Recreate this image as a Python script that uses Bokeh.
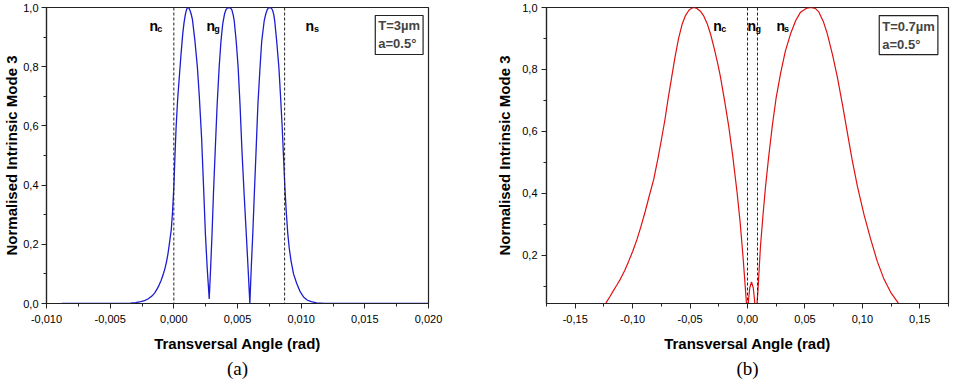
from bokeh.plotting import figure
from bokeh.layouts import row
from bokeh.models import FixedTicker, Span, Label, Range1d, Title
from bokeh.embed import file_html
from bokeh.resources import INLINE

# ---------------- data: panel (a) ----------------
angle_a = [
    -0.0088, -0.005, -0.004, -0.0034, -0.003, -0.0026, -0.0023, -0.002, -0.0017, -0.0015,
    -0.0013, -0.00115, -0.001, -0.00085, -0.0007, -0.00058, -0.00046, -0.00034, -0.0002, -0.0001,
    0.0, 0.00009, 0.00018, 0.0003, 0.00043, 0.00057, 0.0007, 0.0008, 0.0009, 0.00098,
    0.00105, 0.00112, 0.00119, 0.00127, 0.00136, 0.00146, 0.00165, 0.00185, 0.002, 0.00218,
    0.00233, 0.00248, 0.00262, 0.00278, 0.0029, 0.003, 0.00312, 0.00325, 0.0034, 0.00356,
    0.0037, 0.00384, 0.00398, 0.0041, 0.00421, 0.00433, 0.00445, 0.00456, 0.00466, 0.00474,
    0.0049, 0.00505, 0.0052, 0.00535, 0.00552, 0.00569, 0.00583, 0.00597, 0.00608, 0.0062,
    0.00633, 0.00646, 0.0066, 0.00677, 0.0069, 0.0071, 0.00722, 0.00733, 0.00743, 0.00754,
    0.00765, 0.00776, 0.00785, 0.00792, 0.00808, 0.00825, 0.00838, 0.00851, 0.00862, 0.00872,
    0.00883, 0.00895, 0.00907, 0.0092, 0.0094, 0.00966, 0.0099, 0.0102, 0.0105, 0.0108,
    0.0112, 0.0118, 0.0125, 0.02]
mode_a = [
    0.0, 0.0, 0.0005, 0.0015, 0.003, 0.006, 0.01, 0.016, 0.026, 0.036,
    0.05, 0.063, 0.078, 0.096, 0.118, 0.14, 0.168, 0.205, 0.25, 0.31,
    0.393, 0.50, 0.596, 0.69, 0.765, 0.845, 0.911, 0.948, 0.975, 0.99,
    0.998, 1.0, 0.998, 0.99, 0.978, 0.96, 0.89, 0.798, 0.70, 0.56,
    0.40, 0.235, 0.12, 0.015, 0.13, 0.235, 0.38, 0.517, 0.67, 0.798,
    0.885, 0.945, 0.978, 0.993, 0.999, 1.0, 0.999, 0.992, 0.975, 0.956,
    0.885, 0.798, 0.67, 0.517, 0.37, 0.235, 0.12, 0.0, 0.12, 0.235,
    0.38, 0.517, 0.67, 0.798, 0.885, 0.956, 0.978, 0.992, 0.999, 1.0,
    0.999, 0.99, 0.975, 0.956, 0.885, 0.798, 0.70, 0.596, 0.49, 0.393,
    0.31, 0.235, 0.185, 0.145, 0.10, 0.067, 0.042, 0.021, 0.011, 0.006,
    0.002, 0.0005, 0.0, 0.0]
interfaces_a = [0.0, 0.0087]
xticks_a = [-0.010, -0.005, 0.000, 0.005, 0.010, 0.015, 0.020]
xlabels_a = ["-0,010", "-0,005", "0,000", "0,005", "0,010", "0,015", "0,020"]
xminor_a = [-0.0075, -0.0025, 0.0025, 0.0075, 0.0125, 0.0175]
yticks_a = [0.0, 0.2, 0.4, 0.6, 0.8, 1.0]
ylabels_a = ["0,0", "0,2", "0,4", "0,6", "0,8", "1,0"]
yminor_a = [0.1, 0.3, 0.5, 0.7, 0.9]
legend_a = "T=3µm\na=0.5°"

# ---------------- data: panel (b) ----------------
angle_b = [
    -0.128, -0.125, -0.123, -0.120, -0.117, -0.114, -0.1108, -0.107, -0.1035, -0.100,
    -0.0962, -0.093, -0.089, -0.0855, -0.0817, -0.078, -0.075, -0.072, -0.069, -0.066,
    -0.063, -0.060, -0.057, -0.054, -0.051, -0.0485, -0.0468, -0.044, -0.041, -0.038,
    -0.035, -0.032, -0.029, -0.026, -0.0235, -0.020, -0.0163, -0.013, -0.009, -0.0065,
    -0.004, -0.002, 0.0, 0.001, 0.002, 0.0035, 0.005, 0.006, 0.0073, 0.009,
    0.0113, 0.0135, 0.0157, 0.0185, 0.0215, 0.025, 0.0288, 0.033, 0.0375, 0.042,
    0.0462, 0.051, 0.055, 0.059, 0.0622, 0.066, 0.0695, 0.074, 0.0782, 0.083,
    0.087, 0.091, 0.0957, 0.1015, 0.1073, 0.113, 0.1189, 0.125, 0.131, 0.135]
mode_b = [
    0.022, 0.037, 0.047, 0.065, 0.084, 0.102, 0.122, 0.150, 0.180, 0.212,
    0.251, 0.290, 0.342, 0.392, 0.444, 0.512, 0.572, 0.635, 0.708, 0.775,
    0.842, 0.900, 0.945, 0.974, 0.991, 0.998, 1.0, 0.997, 0.988, 0.972,
    0.947, 0.912, 0.868, 0.82, 0.775, 0.70, 0.615, 0.525, 0.40, 0.31,
    0.20, 0.10, 0.0, 0.06, 0.095, 0.114, 0.095, 0.06, 0.0, 0.08,
    0.229, 0.33, 0.422, 0.52, 0.615, 0.71, 0.787, 0.86, 0.915, 0.958,
    0.985, 0.997, 1.0, 0.997, 0.985, 0.955, 0.915, 0.848, 0.776, 0.68,
    0.594, 0.51, 0.422, 0.33, 0.251, 0.18, 0.122, 0.078, 0.047, 0.03]
interfaces_b = [0.0, 0.0087]
xticks_b = [-0.15, -0.10, -0.05, 0.00, 0.05, 0.10, 0.15]
xlabels_b = ["-0,15", "-0,10", "-0,05", "0,00", "0,05", "0,10", "0,15"]
xminor_b = [-0.175, -0.125, -0.075, -0.025, 0.025, 0.075, 0.125, 0.175]
yticks_b = [0.2, 0.4, 0.6, 0.8, 1.0]
ylabels_b = ["0,2", "0,4", "0,6", "0,8", "1,0"]
yminor_b = [0.1, 0.3, 0.5, 0.7, 0.9]
legend_b = "T=0.7µm\na=0.5°"

assert len(angle_a) == len(mode_a)
assert len(angle_b) == len(mode_b)

FONT = "Liberation Sans"
SERIF = "Liberation Serif"
INK = "#222222"


def style(p, xt, xl, xm, yt, yl, ym, ystand, ylabstand):
    p.xaxis.ticker = FixedTicker(ticks=xt, minor_ticks=xm)
    p.yaxis.ticker = FixedTicker(ticks=yt, minor_ticks=ym)
    p.xaxis.major_label_overrides = {t: s for t, s in zip(xt, xl)}
    p.yaxis.major_label_overrides = {t: s for t, s in zip(yt, yl)}
    for ax in (p.xaxis[0], p.yaxis[0]):
        ax.axis_line_color = INK
        ax.axis_line_width = 1.2
        ax.major_tick_line_color = INK
        ax.minor_tick_line_color = INK
        ax.major_tick_out = 5
        ax.major_tick_in = 0
        ax.minor_tick_out = 3
        ax.minor_tick_in = 0
        ax.major_label_text_font = FONT
        ax.major_label_text_font_size = "11px"
        ax.major_label_text_color = "black"
        ax.axis_label_text_font = FONT
        ax.axis_label_text_font_size = "15px"
        ax.axis_label_text_font_style = "bold"
        ax.axis_label_text_color = "black"
    p.xaxis.major_label_standoff = 6
    p.yaxis.major_label_standoff = ylabstand
    p.xaxis.axis_label = "Transversal Angle (rad)"
    p.xaxis.axis_label_standoff = 9
    p.yaxis.axis_label = "Normalised Intrinsic Mode 3"
    p.yaxis.axis_label_standoff = ystand
    p.xgrid.visible = False
    p.ygrid.visible = False
    p.outline_line_color = INK
    p.outline_line_width = 1.2
    p.background_fill_color = "white"
    p.border_fill_color = "white"


def txt(p, x, y, s, size):
    p.add_layout(Label(x=x, y=y, text=s, text_font=FONT, text_font_size=size,
                       text_font_style="bold", text_align="left",
                       text_baseline="alphabetic", text_color="black"))


def legend_box(p, x, y, s):
    p.add_layout(Label(x=x, y=y, text=s, text_font=FONT, text_font_size="13px",
                       text_font_style="bold", text_align="left", text_baseline="top",
                       text_line_height=1.2, border_line_color=INK, border_line_width=1.2,
                       background_fill_color="white", padding=3))


def caption(p, s):
    p.add_layout(Title(text=s, align="center", text_font=SERIF, text_font_size="19px",
                       text_font_style="normal", text_color="black", standoff=2), "below")


# ---------------- panel (a) ----------------
pa = figure(width=490, height=386, output_backend="svg", toolbar_location=None,
            x_range=Range1d(-0.010, 0.020), y_range=Range1d(0.0, 1.0),
            min_border_left=38, min_border_right=62, min_border_top=7, min_border_bottom=83)
style(pa, xticks_a, xlabels_a, xminor_a, yticks_a, ylabels_a, yminor_a, 0, 3)
for loc in interfaces_a:
    pa.add_layout(Span(location=loc, dimension="height", line_color=INK,
                       line_dash="3 2", line_width=1))
pa.line(angle_a, mode_a, line_color="#1c1cd0", line_width=1.3)

txt(pa, -0.00192, 0.939, "n", "14px")
txt(pa, -0.00131, 0.926, "c", "9px")
txt(pa, 0.00256, 0.939, "n", "14px")
txt(pa, 0.00318, 0.926, "g", "9px")
txt(pa, 0.01035, 0.939, "n", "14px")
txt(pa, 0.0110, 0.926, "s", "9px")
legend_box(pa, 0.01582, 0.973, legend_a)
caption(pa, "(a)")

# ---------------- panel (b) ----------------
pb = figure(width=464, height=386, output_backend="svg", toolbar_location=None,
            x_range=Range1d(-0.175, 0.175), y_range=Range1d(0.044, 1.0),
            min_border_left=56, min_border_right=6, min_border_top=7, min_border_bottom=82)
style(pb, xticks_b, xlabels_b, xminor_b, yticks_b, ylabels_b, yminor_b, 6, 4)
for loc in interfaces_b:
    pb.add_layout(Span(location=loc, dimension="height", line_color=INK,
                       line_dash="3 2", line_width=1))
pb.line(angle_b, mode_b, line_color="#e01010", line_width=1.2)

txt(pb, -0.0299, 0.939, "n", "14px")
txt(pb, -0.0229, 0.931, "c", "9px")
txt(pb, 0.0, 0.939, "n", "14px")
txt(pb, 0.0070, 0.931, "g", "9px")
txt(pb, 0.0253, 0.939, "n", "14px")
txt(pb, 0.0317, 0.931, "s", "9px")
legend_box(pb, 0.1147, 0.974, legend_b)
caption(pb, "(b)")

layout = row(pa, pb)
open("out.html", "w").write(file_html(layout, INLINE))
